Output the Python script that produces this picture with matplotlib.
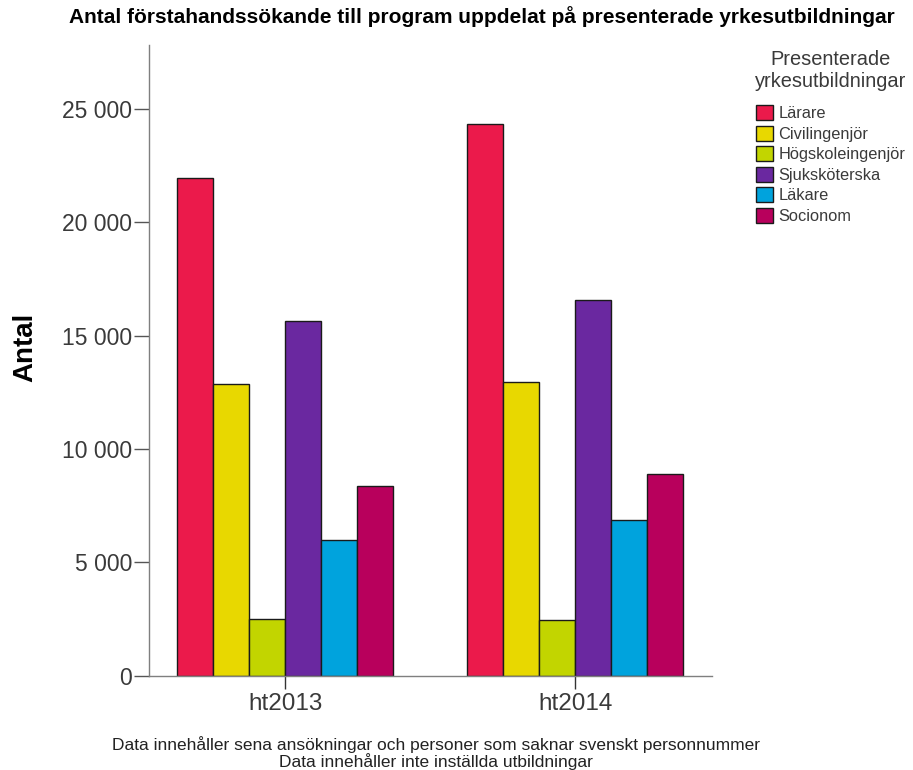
import numpy as np
import matplotlib.pyplot as plt
from matplotlib.ticker import FuncFormatter

# Data
terms = ["ht2013", "ht2014"]
programs = ["Lärare", "Civilingenjör", "Högskoleingenjör", "Sjuksköterska", "Läkare", "Socionom"]
ht2013 = [21950, 12850, 2500, 15620, 5980, 8350]
ht2014 = [24320, 12930, 2470, 16560, 6870, 8880]
colors = ["#EB1A4B", "#E8D800", "#C2D500", "#6A28A0", "#00A3DD", "#B8005C"]

plt.rcParams['font.family'] = ['Liberation Sans', 'DejaVu Sans']

fig = plt.figure(figsize=(9.13, 7.7), dpi=100)
ax = fig.add_axes([0.1632, 0.1221, 0.6166, 0.8195])

values = np.array([ht2013, ht2014])
x = np.arange(len(terms))
width = 0.124
for i, prog in enumerate(programs):
    offset = (i - 2.5) * width
    ax.bar(x + offset, values[:, i], width, color=colors[i], edgecolor="#1a1a1a",
           linewidth=1.0, label=prog)

ax.set_xlim(-0.47, 1.472)
ax.set_ylim(0, 27800)
ax.set_yticks([0, 5000, 10000, 15000, 20000, 25000])
ax.yaxis.set_major_formatter(FuncFormatter(lambda v, p: f"{int(v):,}".replace(",", " ")))
ax.set_xticks(x)
ax.set_xticklabels(terms)

for side in ["top", "right"]:
    ax.spines[side].set_visible(False)
for side in ["left", "bottom"]:
    ax.spines[side].set_color("#7f7f7f")
    ax.spines[side].set_linewidth(1.0)

ax.tick_params(axis="y", length=11, width=1, color="#555555", labelsize=16.5, labelcolor="#3a3a3a", pad=1)
ax.tick_params(axis="x", length=9.5, width=1, color="#333333", labelsize=17.5, labelcolor="#3a3a3a", pad=3)

ax.set_ylabel("Antal", fontsize=20, fontweight="bold")
ax.yaxis.set_label_coords(-0.197, 0.52)

fig.text(0.528, 0.978, "Antal förstahandssökande till program uppdelat på presenterade yrkesutbildningar",
         ha="center", va="center", fontsize=15, fontweight="bold")

fig.text(0.4775, 0.0335, "Data innehåller sena ansökningar och personer som saknar svenskt personnummer",
         ha="center", va="center", fontsize=12.5, color="#222222")
fig.text(0.4775, 0.0115, "Data innehåller inte inställda utbildningar",
         ha="center", va="center", fontsize=12.5, color="#222222")

leg = ax.legend(loc="upper left", bbox_to_anchor=(0.827, 0.935), bbox_transform=fig.transFigure,
                title="Presenterade\nyrkesutbildningar", frameon=False, fontsize=11.8,
                title_fontsize=14.4, handlelength=1.04, handleheight=1.04, handletextpad=0.3,
                labelspacing=0.27, borderaxespad=0, borderpad=0)
leg._legend_box.sep = 10
leg.get_title().set_color("#3a3a3a")
leg.get_title().set_multialignment("center")
for t in leg.get_texts():
    t.set_color("#3a3a3a")

fig.savefig("out.png", dpi=100)
